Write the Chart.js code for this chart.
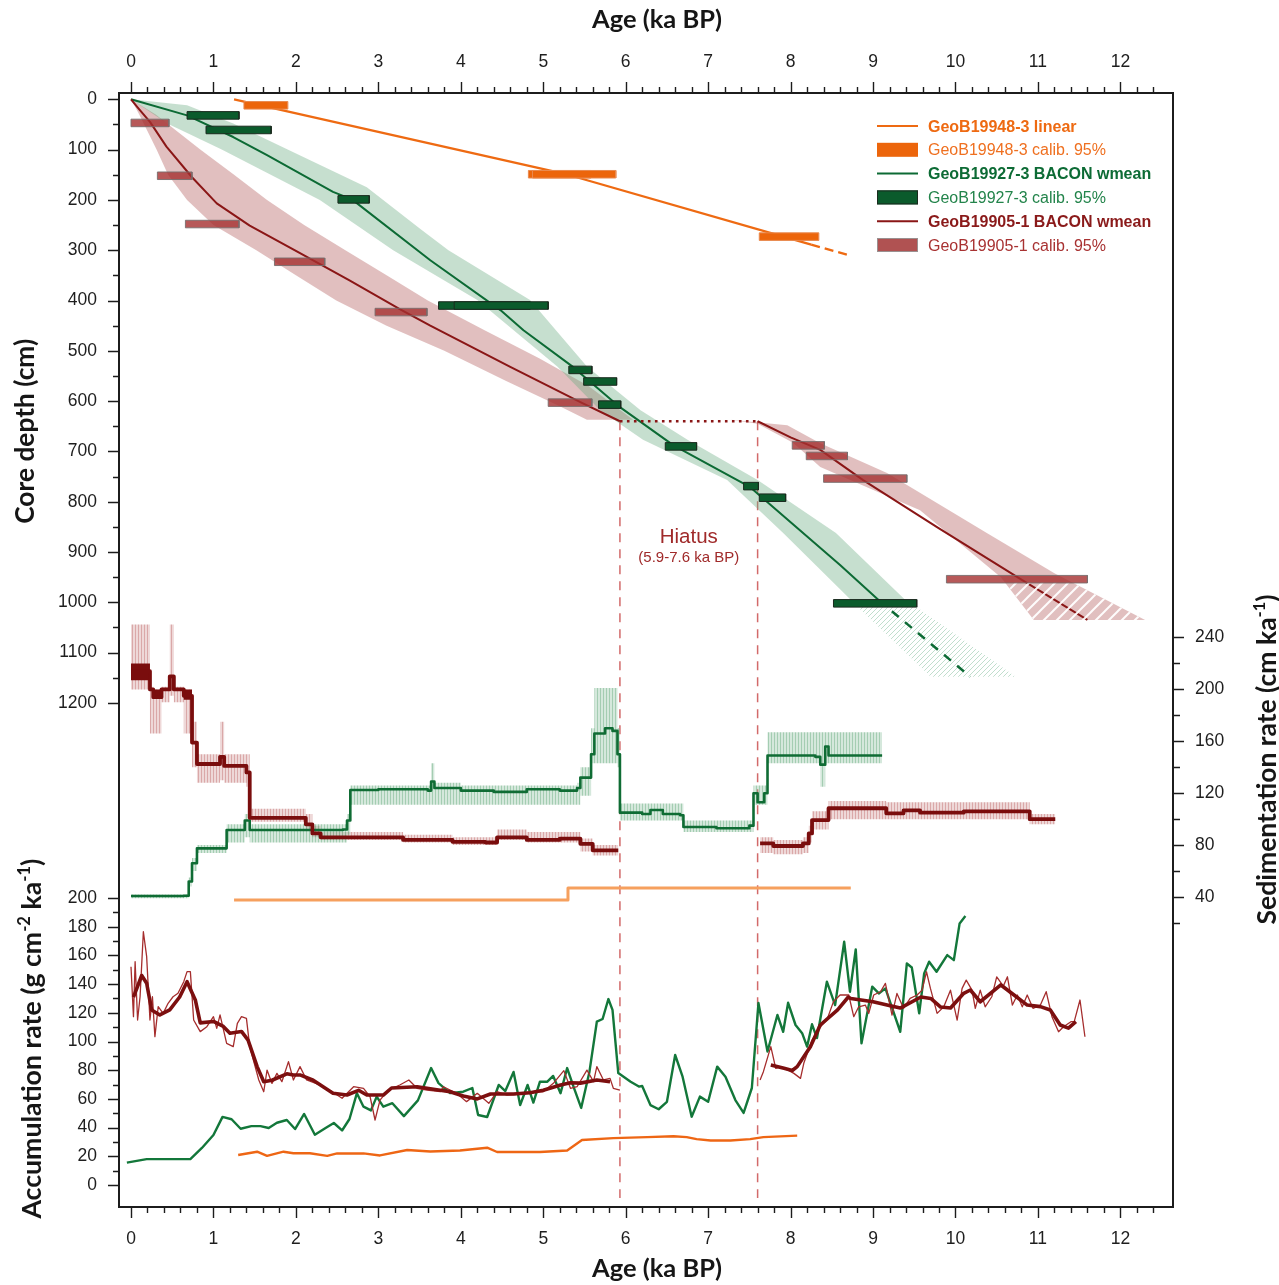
<!DOCTYPE html>
<html>
<head>
<meta charset="utf-8">
<title>Age-depth models, sedimentation and accumulation rates</title>
<script src="https://cdn.jsdelivr.net/npm/chart.js@4.4.1/dist/chart.umd.min.js"></script>
<style>
  html, body { margin: 0; padding: 0; background: #ffffff; }
  canvas { display: block; }
</style>
</head>
<body>
<canvas id="c" width="1279" height="1285"></canvas>
<script>
// ---------------- tick labels ----------------
const AGE_TICKS = [0, 1, 2, 3, 4, 5, 6, 7, 8, 9, 10, 11, 12];
const DEPTH_TICKS = [0, 100, 200, 300, 400, 500, 600, 700, 800, 900, 1000, 1100, 1200];
const ACC_TICKS = [0, 20, 40, 60, 80, 100, 120, 140, 160, 180, 200];
const SED_TICKS = [40, 80, 120, 160, 200, 240];

// ---------------- age-depth models (age ka BP, depth cm) ----------------
const orangeAge = [1.25, 5.3, 8.25];
const orangeDepth = [0, 150, 289];
const orangeExtAge = [8.25, 8.73];
const orangeExtDepth = [289, 311];

const greenAge = [0, 0.68, 1.24, 1.65, 2.45, 2.68, 3.63, 4.48, 4.76, 5.36, 5.93, 6.58, 7.51, 8.6, 9.07];
const greenDepth = [0, 32, 75, 111, 184, 199, 320, 419, 459, 532, 612, 688, 771, 926, 996];
const greenExtAge = [9.07, 10.18];
const greenExtDepth = [996, 1148];

const redAgeTop = [0, 0.1, 0.23, 0.43, 0.74, 1.04, 1.44, 2.05, 2.65, 3.26, 3.63, 4.6, 5.45, 5.93];
const redDepthTop = [0, 20, 45, 94, 155, 207, 251, 306, 360, 417, 450, 532, 602, 640];
const redAgeBot = [7.6, 8.0, 8.36, 8.88, 9.8, 10.79, 11.6];
const redDepthBot = [640, 672, 697, 757, 853, 954, 1035];

// hiatus in GeoB19905-1
const HIATUS_START = 5.93;
const HIATUS_END = 7.6;
const HIATUS_DEPTH = 640;

// 95% ranges of the age models (older edge / younger edge)
const greenBandOldAge = [0, 0.68, 1.24, 1.9, 2.86, 3.51, 3.85, 4.84, 5.53, 6.18, 6.75, 7.6, 8.55, 9.42];
const greenBandOldDepth = [0, 12, 48, 100, 175, 258, 300, 399, 531, 618, 677, 757, 862, 1000];
const greenBandYoungAge = [0, 0.44, 1.1, 2.29, 3.18, 4.2, 5.17, 5.69, 6.21, 7.23, 7.91, 8.76];
const greenBandYoungDepth = [0, 48, 100, 200, 300, 399, 531, 618, 677, 757, 862, 1000];
const greenHatchAge = [8.82, 9.53, 10.73, 9.7];
const greenHatchDepth = [1010, 1010, 1148, 1148];

const redBandOldAge = [0, 0.3, 0.84, 1.25, 1.65, 2.1, 2.6, 3.1, 3.6, 4.3, 4.95, 5.55, 6.09];
const redBandOldDepth = [0, 30, 100, 150, 200, 250, 300, 350, 400, 460, 515, 570, 637];
const redBandYoungAge = [0, 0.1, 0.31, 0.45, 0.68, 1.0, 1.52, 2.0, 2.49, 3.1, 3.8, 4.55, 5.2, 5.53];
const redBandYoungDepth = [0, 30, 100, 150, 200, 250, 300, 350, 400, 450, 500, 560, 610, 637];
const redBand2OldAge = [7.27, 7.96, 8.36, 9.17, 10.39, 11.2, 12.3];
const redBand2OldDepth = [637, 648, 684, 743, 863, 942, 1035];
const redBand2YoungAge = [7.6, 8.03, 8.36, 9.57, 10.55, 10.95];
const redBand2YoungDepth = [645, 683, 731, 817, 950, 1035];
const redHatchAge = [10.6, 11.41, 12.3, 10.95];
const redHatchDepth = [960, 960, 1035, 1035];

// calibrated 14C ages, 95% ranges
const orangeCalibMin = [1.37, 4.82, 4.87, 7.62];
const orangeCalibMax = [1.90, 5.58, 5.88, 8.34];
const orangeCalibDepth = [12, 149, 149, 273];
const greenCalibMin = [0.68, 0.91, 2.51, 3.73, 3.92, 5.31, 5.49, 5.67, 6.48, 7.43, 7.62, 8.52];
const greenCalibMax = [1.31, 1.70, 2.89, 4.84, 5.06, 5.59, 5.89, 5.94, 6.86, 7.61, 7.94, 9.53];
const greenCalibDepth = [32, 61, 199, 410, 410, 538, 561, 607, 690, 769, 792, 1002];
const redCalibMin = [0.00, 0.32, 0.66, 1.74, 2.96, 5.06, 8.02, 8.19, 8.40, 9.89];
const redCalibMax = [0.46, 0.74, 1.31, 2.35, 3.59, 5.59, 8.41, 8.69, 9.41, 11.60];
const redCalibDepth = [47, 152, 248, 323, 423, 603, 688, 709, 754, 954];

// ---------------- sedimentation rates (cm/ka) ----------------
const redSedAge = [0, 0.23, 0.27, 0.37, 0.47, 0.52, 0.64, 0.74, 0.8, 1.08, 1.13, 1.4, 1.44, 2.12, 2.2, 2.3, 3.3, 3.9, 4.3, 4.44, 4.8, 5.2, 5.45, 5.6, 5.91];
const redSedVal = [214, 200, 194, 200, 210, 200, 195, 159, 142.5, 148, 141, 136, 101, 96, 89, 86, 84, 82.5, 82, 86, 84, 85, 81, 76, 76];
const redSedHi = [250, 202, 200, 202, 250, 202, 200, 175, 150, 175, 150, 150, 108, 104, 95, 90, 88, 86, 86, 92, 90, 90, 85, 80, 80];
const redSedLo = [200, 166, 166, 190, 195, 190, 166, 140, 128, 130, 128, 125, 98, 92, 86, 84, 82, 80, 80, 84, 82, 82, 75, 72, 72];
// densely oscillating parts of the GeoB19905-1 weighted mean
const redSedCoreAge = [0, 0.23, 0.27, 0.37, 0.64, 0.74];
const redSedCoreHi = [220, 200, 200, 200, 200, 200];
const redSedCoreLo = [207, 200, 193, 200, 192, 192];

const redSed2Age = [7.63, 7.79, 8.15, 8.22, 8.26, 8.46, 9.16, 9.37, 9.57, 10.1, 10.9, 11.21];
const redSed2Val = [81.3, 79.3, 81.3, 89, 99.3, 108.4, 104.5, 106.8, 105, 106, 100, 100];
const redSed2Hi = [86, 84, 86, 95, 106, 114, 113, 113, 113, 113, 104, 104];
const redSed2Lo = [74, 73, 74, 82, 92, 100, 100, 100, 100, 100, 96, 96];

const greenSedAge = [0, 0.64, 0.7, 0.74, 0.8, 1.16, 1.38, 1.44, 2.57, 2.62, 2.66, 3.0, 3.6, 3.64, 3.68, 4.0, 4.4, 4.8, 5.2, 5.41, 5.45, 5.58, 5.62, 5.75, 5.84, 5.9, 5.93, 6.2, 6.3, 6.45, 6.66, 6.7, 7.1, 7.5, 7.55, 7.6, 7.68, 7.72, 8.3, 8.36, 8.42, 8.46, 9.11];
const greenSedVal = [40.8, 41, 52, 66, 77.5, 91.6, 99, 91.6, 92, 99, 122.5, 123, 122, 129, 124, 122, 121, 123, 122, 124, 132, 150, 166, 170, 168, 150, 105, 104, 107, 104, 103, 94, 93, 95, 120, 113, 120, 149, 148, 142, 156, 149, 149];
const greenSedHi = [42, 42, 55, 70, 80, 96, 104, 96, 96, 104, 126, 126, 126, 143, 128, 126, 126, 126, 126, 128, 140, 170, 201, 201, 201, 170, 112, 112, 112, 112, 112, 99, 99, 99, 126, 126, 126, 167, 167, 167, 167, 167, 167];
const greenSedLo = [39, 39, 48, 60, 74, 82, 86, 82, 82, 88, 111, 111, 111, 111, 111, 111, 111, 111, 111, 111, 118, 143, 143, 143, 143, 140, 99, 99, 99, 99, 99, 90, 90, 90, 111, 111, 111, 143, 143, 125, 143, 143, 143];

const orangeSedAge = [1.25, 5.3, 8.73];
const orangeSedVal = [37.7, 47, 47];

// ---------------- accumulation rates (g cm-2 ka-1) ----------------
const orangeAccAge = [1.30, 1.53, 1.65, 1.85, 1.97, 2.17, 2.38, 2.50, 2.82, 3.02, 3.35, 3.63, 3.99, 4.32, 4.44, 4.96, 5.29, 5.47, 5.85, 6.26, 6.58, 6.74, 6.86, 7.03, 7.27, 7.51, 7.67, 8.08];
const orangeAccVal = [20.9, 23.2, 20.3, 23.2, 22.1, 22.1, 20.3, 22.0, 22.0, 20.6, 24.4, 23.3, 24.0, 26.0, 23.0, 23.0, 24.0, 31.4, 32.7, 33.4, 34.0, 33.4, 32.0, 31.0, 31.0, 32.0, 33.4, 34.4];

const greenAccAge = [-0.05, 0.19, 0.72, 0.86, 1.00, 1.11, 1.22, 1.33, 1.46, 1.57, 1.67, 1.77, 1.89, 1.99, 2.10, 2.23, 2.36, 2.46, 2.56, 2.65, 2.74, 2.82, 2.91, 2.98, 3.06, 3.17, 3.31, 3.48, 3.64, 3.73, 3.87, 4.03, 4.14, 4.21, 4.32, 4.46, 4.54, 4.64, 4.72, 4.81, 4.88, 4.96, 5.05, 5.12, 5.21, 5.29, 5.37, 5.46, 5.56, 5.65, 5.72, 5.79, 5.84, 5.91, 6.06, 6.16, 6.20, 6.30, 6.40, 6.50, 6.60, 6.69, 6.80, 6.90, 7.00, 7.11, 7.21, 7.33, 7.43, 7.53, 7.61, 7.72, 7.84, 7.91, 7.97, 8.06, 8.14, 8.20, 8.26, 8.32, 8.44, 8.54, 8.65, 8.72, 8.79, 8.86, 8.99, 9.07, 9.15, 9.33, 9.41, 9.47, 9.56, 9.62, 9.68, 9.77, 9.90, 9.98, 10.05, 10.12];
const greenAccVal = [15.6, 18, 18, 25.8, 34.8, 47.5, 45.8, 39.2, 41, 41, 39.7, 43.4, 45.3, 39, 49.5, 35, 39.7, 43.2, 38, 46, 64, 54.6, 52, 61.6, 54.6, 57, 48, 59, 81.5, 71, 64, 65, 67.6, 48.8, 47.4, 69.7, 65.5, 78.8, 55.7, 69.7, 57.4, 72, 72, 76, 64, 81.5, 68, 53.7, 78.8, 113.8, 115.7, 129.6, 122, 78, 72, 68.6, 69, 55.7, 52.8, 58, 90.6, 75.5, 47.6, 61.6, 58, 82.5, 75.5, 59.2, 50.2, 67.6, 126.8, 93, 118.5, 106.8, 127, 111.5, 105.8, 96.4, 112, 102.4, 141.7, 125.4, 169.5, 134.7, 164.2, 98.7, 138.2, 133.5, 137, 106.8, 154.4, 151.6, 119.6, 147.5, 155.6, 148.6, 160.2, 156.7, 182.3, 187.4];

// GeoB19905-1 raw values
const redAccAge = [0.00, 0.03, 0.05, 0.08, 0.11, 0.15, 0.19, 0.23, 0.26, 0.29, 0.33, 0.39, 0.45, 0.51, 0.57, 0.64, 0.68, 0.72, 0.76, 0.84, 0.92, 1.00, 1.04, 1.08, 1.16, 1.24, 1.29, 1.34, 1.40, 1.44, 1.55, 1.61, 1.65, 1.71, 1.77, 1.83, 1.91, 1.97, 2.05, 2.13, 2.29, 2.44, 2.56, 2.70, 2.82, 2.90, 2.96, 3.02, 3.12, 3.26, 3.37, 3.47, 3.59, 3.75, 3.79, 3.95, 4.07, 4.20, 4.34, 4.44, 4.56, 4.72, 4.84, 5.00, 5.13, 5.25, 5.33, 5.41, 5.53, 5.61, 5.65, 5.73, 5.81, 5.85, 5.93];
const redAccVal = [152.1, 117.3, 155.6, 115, 131.2, 176.5, 159.1, 115, 131.2, 103.4, 124.3, 119.6, 126.6, 131.2, 133.6, 141.7, 148.7, 148.7, 115, 106.9, 110.3, 117.3, 109.2, 118.5, 98.7, 96.4, 112.7, 117.3, 116.1, 96.4, 73.2, 65, 80.1, 70.8, 77.8, 72, 86, 73.2, 82.5, 73.2, 69.7, 65, 60.4, 68.5, 67.4, 61.5, 45.3, 59.2, 66.2, 69.7, 73.2, 67.4, 66.2, 65, 68.5, 63.9, 58.1, 63.9, 56.9, 65, 62.7, 63.4, 65, 65, 71.3, 79.7, 67.4, 68.5, 80.1, 72, 82.5, 73.2, 74.3, 67.4, 66.2];
const redAcc2Age = [7.63, 7.67, 7.76, 7.82, 7.88, 7.98, 8.04, 8.12, 8.16, 8.26, 8.36, 8.44, 8.52, 8.60, 8.705, 8.766, 8.826, 8.907, 8.948, 9.008, 9.09, 9.15, 9.23, 9.29, 9.37, 9.45, 9.535, 9.595, 9.648, 9.696, 9.777, 9.858, 9.939, 10.02, 10.08, 10.13, 10.2, 10.24, 10.3, 10.36, 10.44, 10.5, 10.58, 10.63, 10.69, 10.75, 10.81, 10.87, 10.94, 11.03, 11.1, 11.17, 11.25, 11.31, 11.4, 11.44, 11.51, 11.57];
const redAcc2Val = [73.2, 79, 96.4, 81.3, 82.5, 79.7, 77.8, 74.3, 84.8, 101, 110.3, 115, 127.8, 132.4, 132.4, 117.3, 124.2, 125.4, 119.6, 132.4, 134.7, 140.5, 118.4, 133.5, 123.1, 130, 132.4, 135.8, 148.6, 137, 119.6, 124.2, 135.8, 114.9, 137, 142.8, 135.8, 123.1, 135.8, 124.2, 131.2, 145.1, 138.6, 145.1, 125.4, 132.4, 124.2, 132.4, 123.1, 125.4, 134.7, 117.3, 106.8, 110.3, 113.8, 113.8, 128.9, 103.3];
// GeoB19905-1 running mean
const redAccSmAge = [0.03, 0.13, 0.19, 0.25, 0.35, 0.47, 0.59, 0.68, 0.78, 0.84, 1.00, 1.12, 1.20, 1.34, 1.42, 1.53, 1.61, 1.71, 1.89, 1.97, 2.05, 2.21, 2.45, 2.62, 2.76, 2.86, 3.06, 3.16, 3.47, 3.75, 3.87, 4.03, 4.20, 4.36, 4.64, 4.84, 5.00, 5.21, 5.33, 5.45, 5.65, 5.81];
const redAccSmVal = [131, 146, 140.6, 122, 118.5, 122, 131, 141.7, 129, 113, 114, 110.5, 105.8, 107, 101, 82.5, 72, 73, 77.5, 76.7, 76.7, 73, 64, 62.7, 66, 62.7, 62.7, 67.6, 68.5, 66, 65, 62, 60, 63.4, 63.4, 64.3, 66, 69.7, 71.3, 71, 73.2, 72];
const redAccSm2Age = [7.76, 7.92, 8.02, 8.08, 8.24, 8.36, 8.57, 8.70, 8.73, 9.00, 9.17, 9.33, 9.58, 9.70, 9.82, 9.94, 10.10, 10.18, 10.30, 10.55, 10.71, 10.87, 11.03, 11.15, 11.27, 11.37, 11.46];
const redAccSm2Val = [83.6, 81.3, 79.8, 82.5, 96.4, 111.5, 122, 131, 130, 127.7, 125.4, 123.3, 131, 130, 124, 123.3, 133.6, 135.9, 127.7, 139.4, 132.4, 125.4, 124.3, 122, 111.5, 109.3, 113.8];

// ---------------- styling ----------------
const AXIS_COLOR = '#1c1c1c';
const TICK_FONT = '"Liberation Sans", Arial, sans-serif';
const TICK_SIZE = 17.5;
const TITLE_FONT = 'Lato, "Open Sans", sans-serif';
const BAR_HALF = 7.5; // half thickness of calibration bars, cm
const COL = {
  orange: '#ee6a12', orangeBar: '#ec650b', orangeBarEdge: '#e98a50', orangeSed: '#f6a05e', orangeAcc: '#ee6614',
  green: '#0c6a34', greenBar: '#0b5b2c', greenBarEdge: '#1a2a1e', greenBand: 'rgba(105,170,128,0.38)',
  greenSed: '#0f6c34', greenAcc: '#13773a',
  red: '#8a1616', redBar: 'rgba(165,48,48,0.8)', redBarEdge: 'rgba(120,110,110,0.9)', redBand: 'rgba(168,68,68,0.34)',
  redSed: '#7a0d0d', redAccThin: '#a52d2d', redAccThick: '#7c0f0f',
  hiatus: '#d26a6a', hiatusText: '#a02a2a'
};

// axis extents chosen so the panels share one plotting frame
const AGE_MIN = -0.1455, AGE_MAX = 12.638;
const DEPTH_MIN = -12.5, DEPTH_MAX = 2202;
const ACC_MIN = -15.33, ACC_MAX = 761;
const SED_MIN = -198.9, SED_MAX = 659.6;

// ---------------- helpers ----------------
const canvas = document.getElementById('c');
const mainCtx = canvas.getContext('2d');

function pts(xs, ys) {
  const n = Math.min(xs.length, ys.length);
  const out = [];
  for (let i = 0; i < n; i++) out.push({ x: xs[i], y: ys[i] });
  return out;
}
function polygon(xA, yA, xB, yB) {
  return pts(xA, yA).concat(pts(xB, yB).reverse());
}
function lineDs(data, yAxisID, color, width, extra) {
  return Object.assign({
    type: 'line', data, xAxisID: 'x', yAxisID, borderColor: color, borderWidth: width,
    pointRadius: 0, fill: false, tension: 0, borderJoinStyle: 'round'
  }, extra || {});
}
function shapeDs(data, yAxisID, fillStyle, extra) {
  return Object.assign({
    type: 'line', data, xAxisID: 'x', yAxisID, borderColor: 'rgba(0,0,0,0)', borderWidth: 1,
    backgroundColor: fillStyle, pointRadius: 0, fill: 'shape', tension: 0
  }, extra || {});
}
function calibBars(mins, maxs, depths, fill, edge) {
  return depths.map((d, i) => shapeDs([
    { x: mins[i], y: d + BAR_HALF }, { x: mins[i], y: d - BAR_HALF },
    { x: maxs[i], y: d - BAR_HALF }, { x: maxs[i], y: d + BAR_HALF },
    { x: mins[i], y: d + BAR_HALF }
  ], 'depth', fill, { borderColor: edge, borderWidth: 1 }));
}
function hatchPattern(size, color, width) {
  const c = document.createElement('canvas');
  c.width = size; c.height = size;
  const g = c.getContext('2d');
  g.strokeStyle = color; g.lineWidth = width;
  g.beginPath();
  g.moveTo(-1, size + 1); g.lineTo(size + 1, -1);
  g.moveTo(-size / 2 - 1, size / 2 + 1); g.lineTo(size / 2 + 1, -size / 2 - 1);
  g.moveTo(size / 2 - 1, size * 1.5 + 1); g.lineTo(size * 1.5 + 1, size / 2 - 1);
  g.stroke();
  return mainCtx.createPattern(c, 'repeat');
}
// thin vertical strokes, used for the spiky range envelopes of the sedimentation rates
function stripePattern(width, stroke, back) {
  const c = document.createElement('canvas');
  c.width = width; c.height = 4;
  const g = c.getContext('2d');
  g.fillStyle = back; g.fillRect(0, 0, width, 4);
  g.fillStyle = stroke; g.fillRect(0, 0, 1, 4);
  return mainCtx.createPattern(c, 'repeat');
}
const redSedRange = stripePattern(3, 'rgba(190,100,100,0.42)', 'rgba(200,125,125,0.3)');
const greenSedRange = stripePattern(3, 'rgba(105,172,128,0.45)', 'rgba(125,182,145,0.32)');

// ---------------- datasets (listed bottom to top) ----------------
const datasets = [];
// uncertainty envelopes
datasets.push(shapeDs(polygon(redBandOldAge, redBandOldDepth, redBandYoungAge, redBandYoungDepth), 'depth', COL.redBand));
datasets.push(shapeDs(polygon(redBand2OldAge, redBand2OldDepth, redBand2YoungAge, redBand2YoungDepth), 'depth', COL.redBand));
datasets.push(shapeDs(polygon(greenBandOldAge, greenBandOldDepth, greenBandYoungAge, greenBandYoungDepth), 'depth', COL.greenBand));
datasets.push(shapeDs(pts(greenHatchAge, greenHatchDepth), 'depth', hatchPattern(5, 'rgba(150,200,172,0.6)', 1)));
// age-depth models
datasets.push(lineDs(pts(orangeAge, orangeDepth), 'depth', COL.orange, 2.3));
datasets.push(lineDs(pts(orangeExtAge, orangeExtDepth), 'depth', COL.orange, 2.3, { borderDash: [9, 5] }));
datasets.push(lineDs(pts(greenAge, greenDepth), 'depth', COL.green, 2));
datasets.push(lineDs(pts(greenExtAge, greenExtDepth), 'depth', COL.green, 2.5, { borderDash: [9, 8] }));
datasets.push(lineDs(pts(redAgeTop, redDepthTop), 'depth', COL.red, 2));
datasets.push(lineDs(pts(redAgeBot, redDepthBot), 'depth', COL.red, 2));
datasets.push(lineDs(pts([HIATUS_START, HIATUS_END], [HIATUS_DEPTH, HIATUS_DEPTH]), 'depth', COL.red, 2.6, { borderDash: [2.6, 4.4], borderCapStyle: 'butt' }));
datasets.push(shapeDs(pts(redHatchAge, redHatchDepth), 'depth', hatchPattern(13, 'rgba(255,255,255,0.95)', 2)));
// calibrated ages
calibBars(orangeCalibMin, orangeCalibMax, orangeCalibDepth, COL.orangeBar, COL.orangeBarEdge).forEach(d => datasets.push(d));
calibBars(greenCalibMin, greenCalibMax, greenCalibDepth, COL.greenBar, COL.greenBarEdge).forEach(d => datasets.push(d));
calibBars(redCalibMin, redCalibMax, redCalibDepth, COL.redBar, COL.redBarEdge).forEach(d => datasets.push(d));
// sedimentation rate ranges
datasets.push(lineDs(pts(redSedAge, redSedLo), 'sed', 'rgba(0,0,0,0)', 1, { stepped: true }));
datasets.push(lineDs(pts(redSedAge, redSedHi), 'sed', 'rgba(0,0,0,0)', 1, { stepped: true, fill: '-1', backgroundColor: redSedRange }));
datasets.push(lineDs(pts(redSed2Age, redSed2Lo), 'sed', 'rgba(0,0,0,0)', 1, { stepped: true }));
datasets.push(lineDs(pts(redSed2Age, redSed2Hi), 'sed', 'rgba(0,0,0,0)', 1, { stepped: true, fill: '-1', backgroundColor: redSedRange }));
datasets.push(lineDs(pts(greenSedAge, greenSedLo), 'sed', 'rgba(0,0,0,0)', 1, { stepped: true }));
datasets.push(lineDs(pts(greenSedAge, greenSedHi), 'sed', 'rgba(0,0,0,0)', 1, { stepped: true, fill: '-1', backgroundColor: greenSedRange }));
// sedimentation rates
datasets.push(lineDs(pts(orangeSedAge, orangeSedVal), 'sed', COL.orangeSed, 3, { stepped: true }));
datasets.push(lineDs(pts(greenSedAge, greenSedVal), 'sed', COL.greenSed, 2.6, { stepped: true }));
datasets.push(lineDs(pts(redSedCoreAge, redSedCoreLo), 'sed', 'rgba(0,0,0,0)', 1, { stepped: true }));
datasets.push(lineDs(pts(redSedCoreAge, redSedCoreHi), 'sed', 'rgba(0,0,0,0)', 1, { stepped: true, fill: '-1', backgroundColor: COL.redSed }));
datasets.push(lineDs(pts(redSedAge, redSedVal), 'sed', COL.redSed, 3.8, { stepped: true }));
datasets.push(lineDs(pts(redSed2Age, redSed2Val), 'sed', COL.redSed, 3.8, { stepped: true }));
// accumulation rates
datasets.push(lineDs(pts(orangeAccAge, orangeAccVal), 'acc', COL.orangeAcc, 2.4));
datasets.push(lineDs(pts(greenAccAge, greenAccVal), 'acc', COL.greenAcc, 2.4));
datasets.push(lineDs(pts(redAccAge, redAccVal), 'acc', COL.redAccThin, 1.3));
datasets.push(lineDs(pts(redAcc2Age, redAcc2Val), 'acc', COL.redAccThin, 1.3));
datasets.push(lineDs(pts(redAccSmAge, redAccSmVal), 'acc', COL.redAccThick, 3.6));
datasets.push(lineDs(pts(redAccSm2Age, redAccSm2Val), 'acc', COL.redAccThick, 3.6));
// list order is drawing order (first = bottom)
datasets.forEach((d, i) => { d.order = datasets.length - i; });

// ---------------- legend entries ----------------
const LEGEND = [
  { kind: 'line', color: COL.orange, label: 'GeoB19948-3 linear', bold: true, text: '#ee6a12' },
  { kind: 'box', color: COL.orangeBar, edge: null, label: 'GeoB19948-3 calib. 95%', bold: false, text: '#ef7020' },
  { kind: 'line', color: COL.green, label: 'GeoB19927-3 BACON wmean', bold: true, text: '#0d6b35' },
  { kind: 'box', color: COL.greenBar, edge: '#1a2a1e', label: 'GeoB19927-3 calib. 95%', bold: false, text: '#23844b' },
  { kind: 'line', color: COL.red, label: 'GeoB19905-1 BACON wmean', bold: true, text: '#8a1a1a' },
  { kind: 'box', color: '#b05252', edge: '#9a9090', label: 'GeoB19905-1 calib. 95%', bold: false, text: '#a83232' }
];

// ---------------- decorations: tick marks, titles, legend, hiatus ----------------
function drawTitle(ctx, parts, o) {
  ctx.save();
  const measure = s => parts.reduce((w, p) => {
    ctx.font = `700 ${p.sup ? s * 0.62 : s}px ${TITLE_FONT}`;
    return w + ctx.measureText(p.t).width;
  }, 0);
  const s = 26 * o.width / measure(26);
  const total = measure(s);
  ctx.translate(o.x, o.y);
  if (o.rotate) ctx.rotate(-Math.PI / 2);
  ctx.fillStyle = '#161616';
  ctx.textAlign = 'left';
  ctx.textBaseline = 'alphabetic';
  let cur = -total / 2;
  parts.forEach(p => {
    const fs = p.sup ? s * 0.62 : s;
    ctx.font = `700 ${fs}px ${TITLE_FONT}`;
    ctx.fillText(p.t, cur, p.sup ? -s * 0.42 : 0);
    cur += ctx.measureText(p.t).width;
  });
  ctx.restore();
}

const decor = {
  id: 'decor',
  beforeDatasetsDraw(chart) {
    const { ctx, chartArea: a, scales: { x, depth } } = chart;
    ctx.save();
    ctx.strokeStyle = COL.hiatus;
    ctx.lineWidth = 1.5;
    ctx.setLineDash([9, 7]);
    const y0 = depth.getPixelForValue(HIATUS_DEPTH);
    [HIATUS_START, HIATUS_END].forEach(v => {
      const px = x.getPixelForValue(v);
      ctx.beginPath();
      ctx.moveTo(px, y0);
      ctx.lineTo(px, a.bottom - 9);
      ctx.stroke();
    });
    ctx.restore();
  },
  afterDraw(chart) {
    const { ctx, chartArea: a, scales: { x, depth, acc, sed } } = chart;
    ctx.save();
    ctx.strokeStyle = AXIS_COLOR;
    ctx.lineWidth = 1.4;
    ctx.beginPath();
    // age ticks, top and bottom
    for (let i = 0; i <= 62; i++) {
      const px = Math.round(x.getPixelForValue(i / 5)) + 0.5;
      const len = i % 5 === 0 ? 11 : 6;
      ctx.moveTo(px, a.top); ctx.lineTo(px, a.top - len);
      ctx.moveTo(px, a.bottom); ctx.lineTo(px, a.bottom + len);
    }
    // depth ticks
    for (let v = 0; v <= 1200; v += 50) {
      const py = Math.round(depth.getPixelForValue(v)) + 0.5;
      ctx.moveTo(a.left, py); ctx.lineTo(a.left - (v % 100 === 0 ? 11 : 6), py);
    }
    // accumulation ticks
    for (let v = 0; v <= 200; v += 10) {
      const py = Math.round(acc.getPixelForValue(v)) + 0.5;
      ctx.moveTo(a.left, py); ctx.lineTo(a.left - (v % 20 === 0 ? 11 : 6), py);
    }
    // sedimentation ticks
    for (let v = 20; v <= 240; v += 20) {
      const py = Math.round(sed.getPixelForValue(v)) + 0.5;
      ctx.moveTo(a.right, py); ctx.lineTo(a.right + (v % 40 === 0 ? 11 : 7), py);
    }
    ctx.stroke();
    ctx.restore();

    // axis titles
    const midX = (x.getPixelForValue(AGE_MIN) + x.getPixelForValue(AGE_MAX)) / 2 + 11;
    drawTitle(ctx, [{ t: 'Age (ka BP)' }], { x: midX, y: 28, width: 130 });
    drawTitle(ctx, [{ t: 'Age (ka BP)' }], { x: midX, y: 1277, width: 130 });
    drawTitle(ctx, [{ t: 'Core depth (cm)' }], { x: 34, y: depth.getPixelForValue(660), width: 185, rotate: true });
    drawTitle(ctx, [{ t: 'Accumulation rate (g cm' }, { t: '-2', sup: true }, { t: ' ka' }, { t: '-1', sup: true }, { t: ')' }],
      { x: 41, y: acc.getPixelForValue(102), width: 360, rotate: true });
    drawTitle(ctx, [{ t: 'Sedimentation rate (cm ka' }, { t: '-1', sup: true }, { t: ')' }],
      { x: 1276, y: sed.getPixelForValue(146), width: 330, rotate: true });

    // hiatus annotation
    ctx.save();
    ctx.fillStyle = COL.hiatusText;
    ctx.textAlign = 'center';
    ctx.textBaseline = 'alphabetic';
    const hx = x.getPixelForValue((HIATUS_START + HIATUS_END) / 2);
    ctx.font = `20.5px ${TICK_FONT}`;
    ctx.fillText('Hiatus', hx, depth.getPixelForValue(882));
    ctx.font = `15px ${TICK_FONT}`;
    ctx.fillText('(5.9-7.6 ka BP)', hx, depth.getPixelForValue(919));
    ctx.restore();

    // legend
    ctx.save();
    const lx0 = a.right - 296, lx1 = a.right - 255, tx = a.right - 245;
    LEGEND.forEach((e, i) => {
      const cy = a.top + 33 + i * 23.8;
      if (e.kind === 'line') {
        ctx.strokeStyle = e.color; ctx.lineWidth = 2;
        ctx.beginPath(); ctx.moveTo(lx0, cy); ctx.lineTo(lx1, cy); ctx.stroke();
      } else {
        ctx.fillStyle = e.color;
        ctx.fillRect(lx0, cy - 7, lx1 - lx0, 14);
        if (e.edge) { ctx.strokeStyle = e.edge; ctx.lineWidth = 1; ctx.strokeRect(lx0 + 0.5, cy - 6.5, lx1 - lx0 - 1, 13); }
      }
      ctx.fillStyle = e.text;
      ctx.font = `${e.bold ? '700 ' : ''}16px ${TICK_FONT}`;
      ctx.textAlign = 'left';
      ctx.textBaseline = 'alphabetic';
      ctx.fillText(e.label, tx, cy + 5.5);
    });
    ctx.restore();
  }
};

// ---------------- scales ----------------
function axis(extra, ticks) {
  return Object.assign({
    type: 'linear', bounds: 'data',
    grid: { display: false, drawTicks: false },
    border: { display: true, color: AXIS_COLOR, width: 2 },
    ticks: Object.assign({
      font: { family: TICK_FONT, size: TICK_SIZE }, color: '#1e1e1e',
      autoSkip: false, maxRotation: 0, minRotation: 0, callback: v => String(v)
    }, ticks)
  }, extra);
}
const setTicks = list => s => { s.ticks = list.map(v => ({ value: v })); };

// the accumulation axis shares the left edge with the depth axis; its labels are
// mirrored with a negative offset so they sit in the same column as the depth labels
mainCtx.font = `${TICK_SIZE}px ${TICK_FONT}`;
const ACC_WIDEST = Math.max(...ACC_TICKS.map(v => mainCtx.measureText(String(v)).width));

const chart = new Chart(canvas, {
  type: 'line',
  data: { datasets },
  options: {
    responsive: false,
    animation: false,
    devicePixelRatio: 1,
    events: [],
    layout: { padding: 0, autoPadding: false },
    plugins: { legend: { display: false }, tooltip: { enabled: false }, title: { display: false } },
    scales: {
      x: axis({ position: 'bottom', min: AGE_MIN, max: AGE_MAX, afterBuildTicks: setTicks(AGE_TICKS), afterFit: s => { s.height = 78; } }, { padding: 22 }),
      xTop: axis({ position: 'top', min: AGE_MIN, max: AGE_MAX, afterBuildTicks: setTicks(AGE_TICKS), afterFit: s => { s.height = 93; } }, { padding: 20 }),
      depth: axis({ position: 'left', weight: 1, reverse: true, min: DEPTH_MIN, max: DEPTH_MAX, afterBuildTicks: setTicks(DEPTH_TICKS), afterFit: s => { s.width = 119; } }, { padding: 22 }),
      acc: axis({ position: 'left', weight: 0, min: ACC_MIN, max: ACC_MAX, afterBuildTicks: setTicks(ACC_TICKS), afterFit: s => { s.width = 0; }, border: { display: false } },
        { mirror: true, crossAlign: 'far', padding: -(22 + ACC_WIDEST) }),
      sed: axis({ position: 'right', min: SED_MIN, max: SED_MAX, afterBuildTicks: setTicks(SED_TICKS), afterFit: s => { s.width = 106; } }, { padding: 22 })
    }
  },
  plugins: [decor]
});
</script>
</body>
</html>
